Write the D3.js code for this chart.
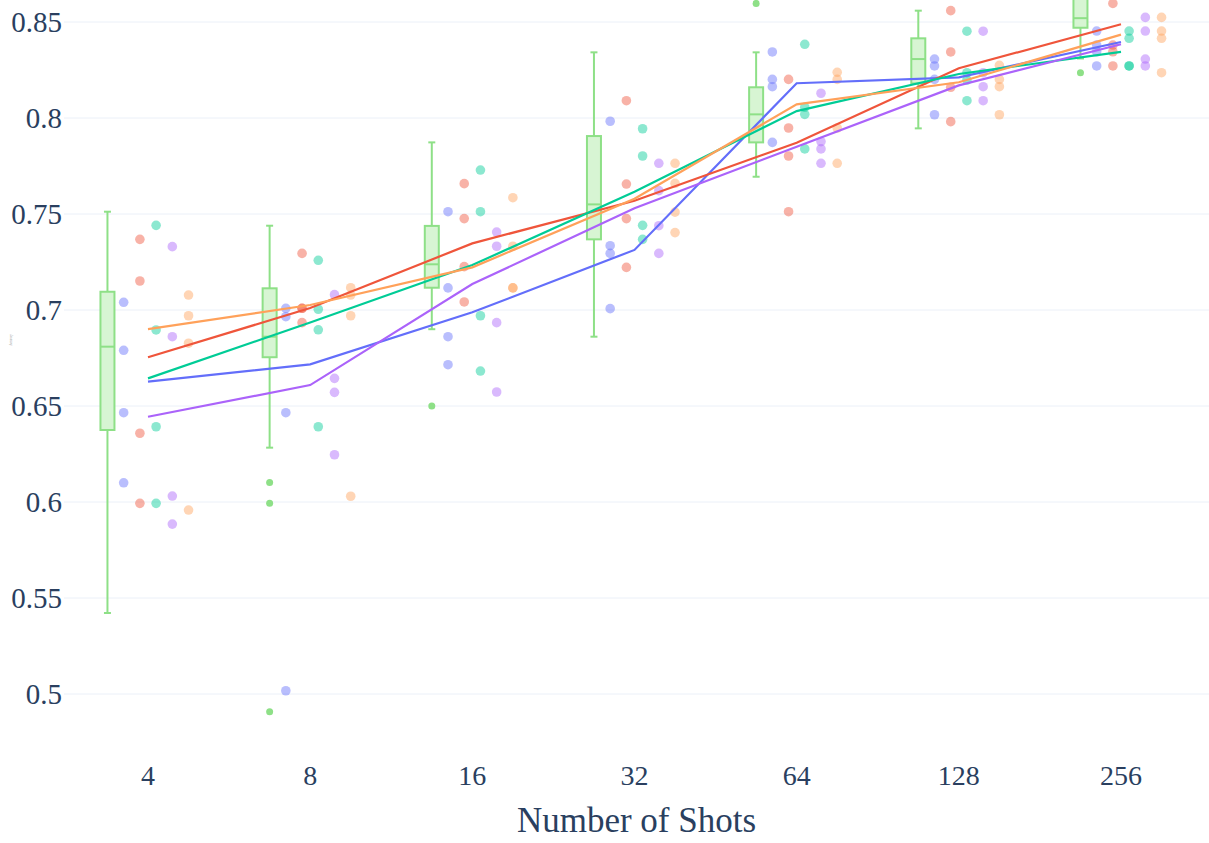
<!DOCTYPE html>
<html lang="en">

<head>
    <meta charset="UTF-8">
    <title>Number of Shots</title>
    <style>
        * {
            margin: 0;
            padding: 0;
        }

        html,
        body {
            overflow: hidden;
            background: #fff;
        }
    </style>
</head>

<body>
    <div id="chart"></div>
    <script src="https://cdn.jsdelivr.net/npm/d3@7"></script>
    <script>
        // data
        const shots = [4, 8, 16, 32, 64, 128, 256]
        const yTicks = [0.5, 0.55, 0.6, 0.65, 0.7, 0.75, 0.8, 0.85]
        const seriesKeys = ['blue', 'red', 'teal', 'purple', 'orange']
        const colors = ['#636efa', '#EF553B', '#00cc96', '#ab63fa', '#FFA15A']

        // line (mean) per series
        const blueLine = [0.6627, 0.6717, 0.6988, 0.7313, 0.8181, 0.8212, 0.8396]
        const redLine = [0.6754, 0.701, 0.7347, 0.7569, 0.7871, 0.8259, 0.8488]
        const tealLine = [0.6644, 0.6935, 0.7234, 0.7616, 0.8036, 0.8229, 0.8344]
        const purpleLine = [0.6444, 0.6609, 0.7135, 0.753, 0.785, 0.817, 0.8384]
        const orangeLine = [0.69, 0.7026, 0.7222, 0.758, 0.8071, 0.8186, 0.8434]

        // individual runs, one list per shot count
        const bluePoints = [
            [0.704, 0.679, 0.6465, 0.610], [0.7009, 0.6965, 0.6465, 0.5017],
            [0.7512, 0.7115, 0.6861, 0.6715], [0.7983, 0.7335, 0.7295, 0.7007],
            [0.8344, 0.8201, 0.8163, 0.7873], [0.8307, 0.8271, 0.8201, 0.8017],
            [0.8453, 0.8345, 0.8271, 0.838]]
        const redPoints = [
            [0.7368, 0.7151, 0.6358, 0.5993], [0.7295, 0.7009, 0.7009, 0.6934],
            [0.7658, 0.7476, 0.7226, 0.7042], [0.809, 0.7656, 0.7476, 0.7222],
            [0.8201, 0.7948, 0.7802, 0.7512], [0.8559, 0.8344, 0.816, 0.7981],
            [0.8597, 0.838, 0.8271, 0.8345]]
        const tealPoints = [
            [0.7441, 0.6896, 0.6392, 0.5993], [0.7259, 0.7004, 0.6897, 0.6392],
            [0.7729, 0.7512, 0.697, 0.6682], [0.7944, 0.7802, 0.7441, 0.7368],
            [0.8384, 0.8056, 0.8019, 0.7839], [0.8452, 0.8236, 0.8198, 0.809],
            [0.8453, 0.8415, 0.8271, 0.8271]]
        const purplePoints = [
            [0.733, 0.6861, 0.6031, 0.5885], [0.708, 0.6644, 0.6571, 0.6246],
            [0.7406, 0.7332, 0.6934, 0.6573], [0.7764, 0.7622, 0.7439, 0.7295],
            [0.8129, 0.7877, 0.7839, 0.7764], [0.8452, 0.8236, 0.8163, 0.809],
            [0.8524, 0.8453, 0.8307, 0.8271]]
        const orangePoints = [
            [0.7078, 0.697, 0.6827, 0.5958], [0.7116, 0.7078, 0.697, 0.603],
            [0.7585, 0.7332, 0.7115, 0.7115], [0.7764, 0.766, 0.751, 0.7403],
            [0.8238, 0.8201, 0.7948, 0.7764], [0.8274, 0.8201, 0.8163, 0.8017],
            [0.8524, 0.8453, 0.8415, 0.8236]]

        // box summary per shot count
        const boxLow = [0.5422, 0.6283, 0.69, 0.6861, 0.7694, 0.7946, 0.831]
        const boxQ1 = [0.6375, 0.6754, 0.7116, 0.7368, 0.7873, 0.818, 0.847]
        const boxMedian = [0.6809, 0.6861, 0.7238, 0.755, 0.8019, 0.8307, 0.852]
        const boxQ3 = [0.7095, 0.7113, 0.7438, 0.7906, 0.816, 0.8415, 0.868]
        const boxHigh = [0.7512, 0.7439, 0.7873, 0.8342, 0.8342, 0.8559, 0.875]
        const boxOutliers = [[], [0.6101, 0.5993, 0.4908], [0.65], [], [0.8597], [], [0.8236]]

        function drawChart() {
            const width = 1209
            const height = 843
            const left = 64, right = 1209, top = 0, bottom = 755
            const textColor = '#2a3f5f'
            const font = '"Liberation Serif", "Times New Roman", serif'

            const lines = [blueLine, redLine, tealLine, purpleLine, orangeLine]
            const points = [bluePoints, redPoints, tealPoints, purplePoints, orangePoints]

            const svg = d3.select('#chart')
                .append('svg')
                .attr('width', width)
                .attr('height', height)
                .style('background', '#fff')

            // x works in log2 units, so each shot count is one step
            const x = d3.scaleLinear().domain([2, 8]).range([148, 1121])
            const y = d3.scaleLinear().domain([0.5, 0.85]).range([694, 22])

            svg.append('clipPath').attr('id', 'plot-clip')
                .append('rect')
                .attr('x', left).attr('y', top)
                .attr('width', right - left).attr('height', bottom - top)

            // grid
            svg.append('g')
                .selectAll('line')
                .data(yTicks)
                .join('line')
                .attr('x1', left)
                .attr('x2', right)
                .attr('y1', d => y(d))
                .attr('y2', d => y(d))
                .attr('stroke', '#ebf0f8')
                .attr('stroke-width', 1)

            // y tick labels
            svg.append('g')
                .selectAll('text')
                .data(yTicks)
                .join('text')
                .attr('x', left - 2)
                .attr('y', d => y(d))
                .attr('dy', '0.35em')
                .attr('text-anchor', 'end')
                .attr('font-family', font)
                .attr('font-size', 29)
                .attr('fill', textColor)
                .text(d => String(d))

            // x tick labels
            svg.append('g')
                .selectAll('text')
                .data(shots)
                .join('text')
                .attr('x', d => x(Math.log2(d)))
                .attr('y', 775)
                .attr('dy', '0.35em')
                .attr('text-anchor', 'middle')
                .attr('font-family', font)
                .attr('font-size', 28)
                .attr('fill', textColor)
                .text(d => d)

            svg.append('text')
                .attr('x', (left + right) / 2)
                .attr('y', 820)
                .attr('dy', '0.35em')
                .attr('text-anchor', 'middle')
                .attr('font-family', font)
                .attr('font-size', 35)
                .attr('fill', textColor)
                .text('Number of Shots')

            // tiny y title left in the original
            svg.append('text')
                .attr('transform', 'translate(12,340) rotate(-90)')
                .attr('text-anchor', 'middle')
                .attr('font-family', font)
                .attr('font-size', 3)
                .attr('fill', '#999')
                .text('Accuracy')

            const plot = svg.append('g').attr('clip-path', 'url(#plot-clip)')

            // box plots, shifted left of each tick
            const boxColor = '#8ee087'
            const boxOffset = -0.25
            const boxW = 14
            const boxes = plot.append('g')
                .selectAll('g')
                .data(shots.map((s, i) => ({
                    cx: x(Math.log2(s) + boxOffset),
                    low: boxLow[i], q1: boxQ1[i], med: boxMedian[i],
                    q3: boxQ3[i], high: boxHigh[i], out: boxOutliers[i]
                })))
                .join('g')

            boxes.append('line')
                .attr('x1', d => d.cx).attr('x2', d => d.cx)
                .attr('y1', d => y(d.low)).attr('y2', d => y(d.high))
                .attr('stroke', boxColor).attr('stroke-width', 2)

            boxes.selectAll('line.cap')
                .data(d => [{ cx: d.cx, v: d.low }, { cx: d.cx, v: d.high }])
                .join('line')
                .attr('class', 'cap')
                .attr('x1', d => d.cx - 3.5).attr('x2', d => d.cx + 3.5)
                .attr('y1', d => y(d.v)).attr('y2', d => y(d.v))
                .attr('stroke', boxColor).attr('stroke-width', 2)

            boxes.append('rect')
                .attr('x', d => d.cx - boxW / 2)
                .attr('width', boxW)
                .attr('y', d => y(d.q3))
                .attr('height', d => y(d.q1) - y(d.q3))
                .attr('fill', '#d7f5d3')
                .attr('stroke', boxColor).attr('stroke-width', 2)

            boxes.append('line')
                .attr('x1', d => d.cx - boxW / 2).attr('x2', d => d.cx + boxW / 2)
                .attr('y1', d => y(d.med)).attr('y2', d => y(d.med))
                .attr('stroke', boxColor).attr('stroke-width', 2)

            boxes.selectAll('circle')
                .data(d => d.out.map(v => ({ cx: d.cx, v })))
                .join('circle')
                .attr('cx', d => d.cx)
                .attr('cy', d => y(d.v))
                .attr('r', 3.5)
                .attr('fill', boxColor)

            // run points, one column per series
            seriesKeys.forEach((key, k) => {
                const offset = -0.15 + k * 0.1
                const flat = []
                points[k].forEach((vals, i) => vals.forEach(v => flat.push({ s: shots[i], v })))
                plot.append('g')
                    .attr('class', 'pts-' + key)
                    .selectAll('circle')
                    .data(flat)
                    .join('circle')
                    .attr('cx', d => x(Math.log2(d.s) + offset))
                    .attr('cy', d => y(d.v))
                    .attr('r', 4.8)
                    .attr('fill', colors[k])
                    .attr('fill-opacity', 0.45)
            })

            // mean lines
            const lineGen = d3.line()
                .x((d, i) => x(Math.log2(shots[i])))
                .y(d => y(d))

            seriesKeys.forEach((key, k) => {
                plot.append('path')
                    .datum(lines[k])
                    .attr('class', 'line-' + key)
                    .attr('d', lineGen)
                    .attr('fill', 'none')
                    .attr('stroke', colors[k])
                    .attr('stroke-width', 2.2)
            })
        }

        drawChart()
    </script>
</body>

</html>
